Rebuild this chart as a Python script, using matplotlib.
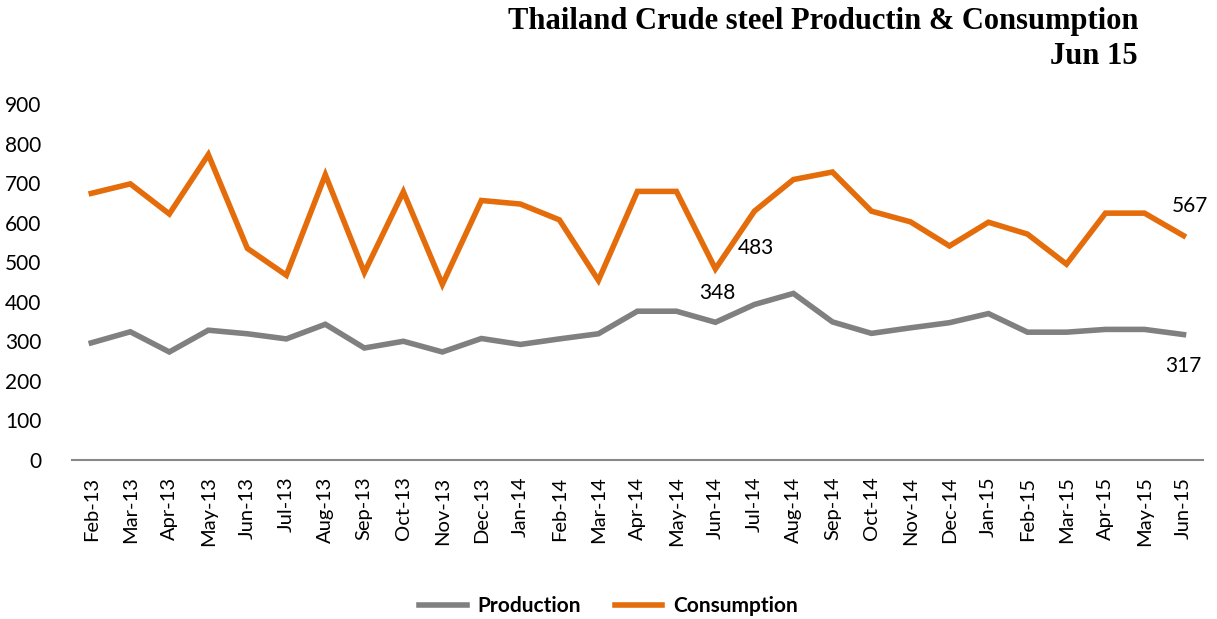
import matplotlib
matplotlib.use("Agg")
import matplotlib.pyplot as plt

months = ["Feb-13", "Mar-13", "Apr-13", "May-13", "Jun-13", "Jul-13", "Aug-13", "Sep-13",
          "Oct-13", "Nov-13", "Dec-13", "Jan-14", "Feb-14", "Mar-14", "Apr-14", "May-14",
          "Jun-14", "Jul-14", "Aug-14", "Sep-14", "Oct-14", "Nov-14", "Dec-14", "Jan-15",
          "Feb-15", "Mar-15", "Apr-15", "May-15", "Jun-15"]
production = [296, 324, 273, 328, 319, 306, 343, 283, 300, 273, 307, 292, 306, 319, 376,
              376, 348, 393, 421, 349, 320, 334, 347, 370, 323, 323, 330, 330, 317]
consumption = [674, 698, 622, 772, 535, 467, 721, 474, 678, 444, 656, 647, 607, 454, 679,
               679, 483, 629, 709, 728, 629, 602, 541, 601, 571, 495, 624, 624, 567]

plt.rcParams['font.family'] = ['Lato', 'DejaVu Sans']

fig = plt.figure(figsize=(12.17, 6.19), dpi=100)
ax = fig.add_axes([0.059, 0.257, 0.9295, 0.575])

x = list(range(len(months)))
ax.plot(x, production, color='#808080', lw=4, label='Production', solid_joinstyle='miter')
ax.plot(x, consumption, color='#E46C0A', lw=4, label='Consumption', solid_joinstyle='miter')

ax.set_xlim(-0.5, len(months) - 0.5)
ax.set_ylim(0, 900)
ax.set_yticks(range(0, 901, 100))
ax.set_xticks(x)
ax.set_xticklabels(months, rotation=90, fontsize=14.5)
ax.tick_params(axis='y', labelsize=15, length=0, pad=22)
ax.tick_params(axis='x', length=0, pad=12)
for s in ['top', 'right', 'left']:
    ax.spines[s].set_visible(False)
ax.spines['bottom'].set_color('#888888')
ax.spines['bottom'].set_linewidth(1.5)

# labels on a few points
lab = dict(textcoords='offset pixels', fontsize=15, ha='center', va='center')
ax.annotate(str(consumption[16]), (16, consumption[16]), xytext=(40, 21), **lab)
ax.annotate(str(production[16]), (16, production[16]), xytext=(2, 29), **lab)
ax.annotate(str(consumption[-1]), (28, consumption[-1]), xytext=(6, 30), **lab)
ax.annotate(str(production[-1]), (28, production[-1]), xytext=(0, -31), **lab)

fig.text(1138 / 1217, 1 - 22 / 619, "Thailand Crude steel Productin & Consumption",
         ha='right', va='center', fontsize=22, fontweight='bold', family='Liberation Serif')
fig.text(1138 / 1217, 1 - 57 / 619, "Jun 15",
         ha='right', va='center', fontsize=22, fontweight='bold', family='Liberation Serif')

fig.legend(loc='center', bbox_to_anchor=(0.5, 1 - 606 / 619), ncol=2, frameon=False,
           prop={'weight': 'bold', 'size': 15}, handlelength=2.3, handletextpad=0.5,
           columnspacing=1.6)

fig.savefig('out.png', dpi=100)
